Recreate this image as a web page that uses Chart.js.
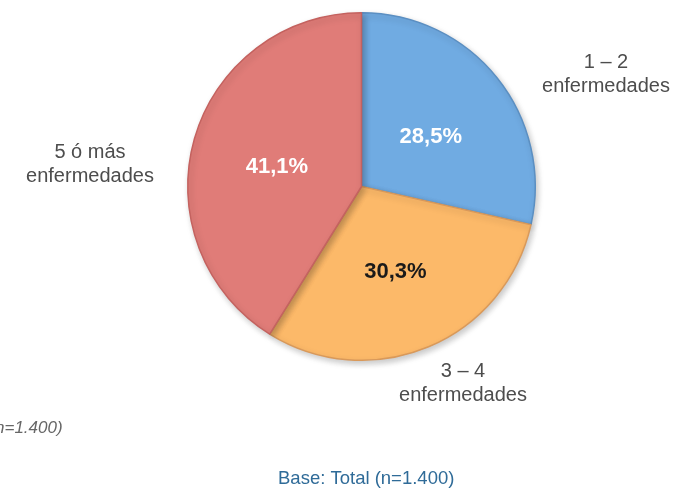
<!DOCTYPE html>
<html>
<head>
<meta charset="utf-8">
<script src="https://cdn.jsdelivr.net/npm/chart.js@4/dist/chart.umd.min.js"></script>
<style>
  html, body { margin: 0; padding: 0; background: #ffffff; }
  #wrap { width: 676px; height: 489px; position: relative; }
</style>
</head>
<body>
<div id="wrap"><canvas id="pieChart" width="676" height="489"></canvas></div>
<script>
// Data
const categories = ['1 – 2 enfermedades', '3 – 4 enfermedades', '5 ó más enfermedades'];
const shares = [28.5, 30.3, 41.1];
const shareLabels = ['28,5%', '30,3%', '41,1%'];
const footnote = 'Base: Total (n=1.400)';
const sideNote = 'n=1.400)';

// Styling (kept apart from the data)
const sliceColors = ['#70abe2', '#fcb969', '#e07c78'];
const sliceBorders = ['#5b8fc2', '#d9995a', '#c4625f'];
const valueColors = ['#ffffff', '#1a1a1a', '#ffffff'];
// where each value label sits: fraction of the slice's sweep, fraction of the radius
const valueAnchors = [[0.53, 0.49], [0.51, 0.53], [0.48, 0.5]];
// outer category labels: two lines, centre x / first baseline y
const outerLabels = [
  { lines: ['1 – 2', 'enfermedades'], x: 606, y: 68 },
  { lines: ['3 – 4', 'enfermedades'], x: 463, y: 377 },
  { lines: ['5 ó más', 'enfermedades'], x: 90, y: 158 }
];

const FONT = "'Liberation Sans', Arial, sans-serif";

// soft shadow under the pie, like the original slide
const shadowPlugin = {
  id: 'pieShadow',
  beforeDatasetsDraw(chart) {
    const ctx = chart.ctx;
    ctx.save();
    ctx.shadowColor = 'rgba(0, 0, 0, 0.22)';
    ctx.shadowBlur = 6;
    ctx.shadowOffsetX = 2;
    ctx.shadowOffsetY = 3;
  },
  afterDatasetsDraw(chart) {
    chart.ctx.restore();
  }
};

const labelPlugin = {
  id: 'pieLabels',
  afterDraw(chart) {
    const ctx = chart.ctx;
    const meta = chart.getDatasetMeta(0);
    ctx.save();
    ctx.textAlign = 'center';
    ctx.textBaseline = 'middle';
    ctx.font = 'bold 22px ' + FONT;
    meta.data.forEach((arc, i) => {
      const p = arc.getProps(['x', 'y', 'startAngle', 'endAngle', 'outerRadius'], true);
      const [af, rf] = valueAnchors[i];
      const a = p.startAngle + (p.endAngle - p.startAngle) * af;
      const r = p.outerRadius * rf;
      ctx.fillStyle = valueColors[i];
      ctx.fillText(shareLabels[i], p.x + Math.cos(a) * r, p.y + Math.sin(a) * r);
    });

    // category names around the pie
    ctx.font = '20px ' + FONT;
    ctx.fillStyle = '#4d4d4d';
    ctx.textBaseline = 'alphabetic';
    outerLabels.forEach(l => {
      l.lines.forEach((t, k) => ctx.fillText(t, l.x, l.y + k * 24));
    });

    // cut-off note on the left
    ctx.textAlign = 'left';
    ctx.font = 'italic 17px ' + FONT;
    ctx.fillStyle = '#666666';
    ctx.fillText(sideNote, -5, 433);

    // base line at the bottom
    ctx.font = '18.5px ' + FONT;
    ctx.fillStyle = '#2f6b98';
    ctx.fillText(footnote, 278, 484);
    ctx.restore();
  }
};

new Chart(document.getElementById('pieChart'), {
  type: 'pie',
  data: {
    labels: categories,
    datasets: [{
      data: shares,
      backgroundColor: sliceColors,
      borderColor: sliceBorders,
      borderWidth: 1.5
    }]
  },
  options: {
    responsive: false,
    animation: false,
    rotation: 0,
    layout: { padding: { top: 12, bottom: 128, left: 187, right: 140 } },
    plugins: {
      legend: { display: false },
      tooltip: { enabled: false },
      title: { display: false }
    }
  },
  plugins: [shadowPlugin, labelPlugin]
});
</script>
</body>
</html>
